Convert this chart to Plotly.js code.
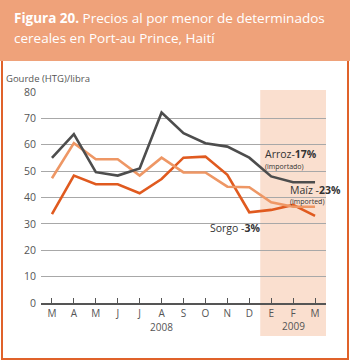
<!DOCTYPE html>
<html><head><meta charset="utf-8">
<script src="https://cdn.plot.ly/plotly-3.0.1.min.js"></script>
<style>html,body{margin:0;padding:0;background:#fff}#c{width:350px;height:361px}</style>
</head><body><div id="c"></div>
<script>
var months = ["M","A","M","J","J","A","S","O","N","D","E","F","M"];
var idx = [0,1,2,3,4,5,6,7,8,9,10,11,12];
var arroz = [55,64,49.6,48.3,51,72.2,64.4,60.6,59.3,55.1,48,45.8,45.8];
var maiz  = [47.3,60.6,54.5,54.5,48.3,55.1,49.5,49.5,44.1,43.9,38.2,36.5,36.5];
var sorgo = [33.7,48.3,45,45,41.6,47,55.1,55.5,48.6,34.4,35.3,37.2,33];
var yTicks = [0,10,20,30,40,50,60,70,80];

var F = "Open Sans, sans-serif";
var traces = [
  {x: idx, y: sorgo, mode: "lines", line: {color: "#E05A1F", width: 2.6}},
  {x: idx, y: maiz, mode: "lines", line: {color: "#EE9765", width: 2.6}},
  {x: idx, y: arroz, mode: "lines", line: {color: "#4D4D4D", width: 2.6}}
];
var layout = {
  width: 350, height: 361,
  margin: {l: 41, r: 24, t: 92, b: 58},
  paper_bgcolor: "#fff", plot_bgcolor: "rgba(0,0,0,0)",
  showlegend: false,
  font: {family: F, color: "#555", size: 10},
  xaxis: {range: [-0.5, 12.5], tickvals: idx, ticktext: months, ticks: "inside", ticklen: 5,
          tickcolor: "#555", showgrid: false, zeroline: false, showline: true, linecolor: "#555",
          linewidth: 2, tickfont: {size: 10, color: "#555"}, fixedrange: true},
  yaxis: {range: [0, 80], tickvals: yTicks, showgrid: true, gridcolor: "#A8A8A8", gridwidth: 1,
          zeroline: false, ticks: "", tickfont: {size: 10.5, color: "#555"}, ticklabelstandoff: 4},
  shapes: [
    {type: "rect", xref: "paper", yref: "paper", x0: -41/285, x1: 1 + 24/285, y0: (361-58-61)/211, y1: (361-58)/211 + 0.1,
     fillcolor: "#EFA27A", line: {width: 0}, layer: "below"},
    {type: "rect", xref: "x", yref: "paper", x0: 9.5, x1: 12.6, y0: -33/211, y1: 1.01,
     fillcolor: "#FADFCF", line: {width: 0}, layer: "below"},
    {type: "path", xref: "paper", yref: "paper",
     path: "M " + (-39/285) + "," + ((303-61)/211) + " L " + (-39/285) + "," + (-56/211) + " L " + (1+22/285) + "," + (-56/211) + " L " + (1+22/285) + "," + ((303-61)/211),
     line: {color: "#E0622A", width: 2}}
  ],
  annotations: [
    {xref: "paper", yref: "paper", x: -29/285, y: (303-18)/211, xanchor: "left", yanchor: "middle", showarrow: false,
     text: "<b>Figura 20.</b> Precios al por menor de determinados", font: {family: F, size: 13.5, color: "#fff"}},
    {xref: "paper", yref: "paper", x: -29/285, y: (303-38)/211, xanchor: "left", yanchor: "middle", showarrow: false,
     text: "cereales en Port-au Prince, Haití", font: {family: F, size: 13.5, color: "#fff"}},
    {xref: "paper", yref: "paper", x: -37/285, y: (303-78)/211, xanchor: "left", yanchor: "middle", showarrow: false,
     text: "Gourde (HTG)/libra", font: {family: F, size: 9.5, color: "#555"}},
    {xref: "x", yref: "paper", x: 5, y: -24/211, xanchor: "center", yanchor: "middle", showarrow: false,
     text: "2008", font: {family: F, size: 10, color: "#555"}},
    {xref: "x", yref: "paper", x: 11, y: -23/211, xanchor: "center", yanchor: "middle", showarrow: false,
     text: "2009", font: {family: F, size: 10, color: "#555"}},
    {xref: "paper", yref: "paper", x: (263-41)/285, y: (303-154)/211, xanchor: "left", yanchor: "middle", showarrow: false,
     text: "Arroz-<b>17%</b>", font: {family: F, size: 10.5, color: "#333"}},
    {xref: "paper", yref: "paper", x: (263-41)/285, y: (303-166)/211, xanchor: "left", yanchor: "middle", showarrow: false,
     text: "(importado)", font: {family: F, size: 7, color: "#333"}},
    {xref: "paper", yref: "paper", x: (288-41)/285, y: (303-189.5)/211, xanchor: "left", yanchor: "middle", showarrow: false,
     text: "Maíz -<b>23%</b>", font: {family: F, size: 10.5, color: "#333"}},
    {xref: "paper", yref: "paper", x: (288-41)/285, y: (303-201)/211, xanchor: "left", yanchor: "middle", showarrow: false,
     text: "(imported)", font: {family: F, size: 7, color: "#333"}},
    {xref: "paper", yref: "paper", x: (208-41)/285, y: (303-228)/211, xanchor: "left", yanchor: "middle", showarrow: false,
     text: "Sorgo -<b>3%</b>", font: {family: F, size: 10.5, color: "#333"}}
  ]
};
Plotly.newPlot("c", traces, layout, {displayModeBar: false, staticPlot: true});
</script></body></html>
